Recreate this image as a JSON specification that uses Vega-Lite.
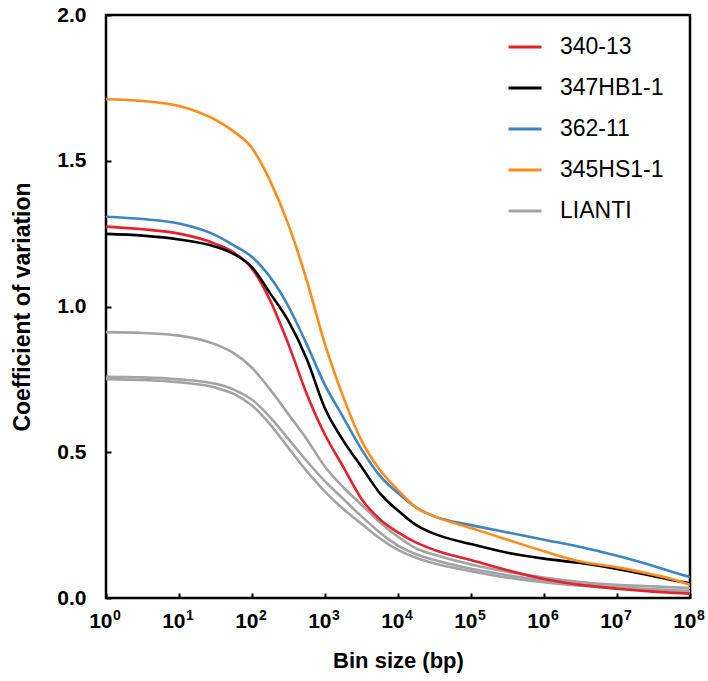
{
  "$schema": "https://vega.github.io/schema/vega-lite/v6.json",
  "width": 584,
  "height": 583,
  "autosize": "none",
  "padding": {"left": 106, "top": 15, "right": 18, "bottom": 83},
  "background": "white",
  "config": {
    "view": {"stroke": "black", "strokeWidth": 2.5},
    "font": "Liberation Sans"
  },
  "datasets": {
    "curves": [
    {"s":"L1","g":"LIANTI","x":1,"y":0.912},{"s":"L1","g":"LIANTI","x":3.162,"y":0.909},{"s":"L1","g":"LIANTI","x":10,"y":0.90},{"s":"L1","g":"LIANTI","x":31.62,"y":0.87},{"s":"L1","g":"LIANTI","x":56.23,"y":0.84},{"s":"L1","g":"LIANTI","x":100,"y":0.79},{"s":"L1","g":"LIANTI","x":177.8,"y":0.715},{"s":"L1","g":"LIANTI","x":316.2,"y":0.63},{"s":"L1","g":"LIANTI","x":562.3,"y":0.545},{"s":"L1","g":"LIANTI","x":1000,"y":0.45},{"s":"L1","g":"LIANTI","x":1778,"y":0.38},{"s":"L1","g":"LIANTI","x":3162,"y":0.32},{"s":"L1","g":"LIANTI","x":5623,"y":0.26},{"s":"L1","g":"LIANTI","x":10000,"y":0.21},{"s":"L1","g":"LIANTI","x":17783,"y":0.17},{"s":"L1","g":"LIANTI","x":31623,"y":0.148},{"s":"L1","g":"LIANTI","x":100000,"y":0.115},{"s":"L1","g":"LIANTI","x":316228,"y":0.09},{"s":"L1","g":"LIANTI","x":1000000,"y":0.07},{"s":"L1","g":"LIANTI","x":3162278,"y":0.055},{"s":"L1","g":"LIANTI","x":10000000,"y":0.045},{"s":"L1","g":"LIANTI","x":31622777,"y":0.04},{"s":"L1","g":"LIANTI","x":56234133,"y":0.037},{"s":"L1","g":"LIANTI","x":100000000,"y":0.034},
    {"s":"L2","g":"LIANTI","x":1,"y":0.759},{"s":"L2","g":"LIANTI","x":3.162,"y":0.757},{"s":"L2","g":"LIANTI","x":10,"y":0.75},{"s":"L2","g":"LIANTI","x":31.62,"y":0.735},{"s":"L2","g":"LIANTI","x":56.23,"y":0.715},{"s":"L2","g":"LIANTI","x":100,"y":0.68},{"s":"L2","g":"LIANTI","x":177.8,"y":0.62},{"s":"L2","g":"LIANTI","x":316.2,"y":0.545},{"s":"L2","g":"LIANTI","x":562.3,"y":0.47},{"s":"L2","g":"LIANTI","x":1000,"y":0.40},{"s":"L2","g":"LIANTI","x":1778,"y":0.34},{"s":"L2","g":"LIANTI","x":3162,"y":0.28},{"s":"L2","g":"LIANTI","x":5623,"y":0.225},{"s":"L2","g":"LIANTI","x":10000,"y":0.18},{"s":"L2","g":"LIANTI","x":17783,"y":0.15},{"s":"L2","g":"LIANTI","x":31623,"y":0.13},{"s":"L2","g":"LIANTI","x":100000,"y":0.10},{"s":"L2","g":"LIANTI","x":316228,"y":0.078},{"s":"L2","g":"LIANTI","x":1000000,"y":0.06},{"s":"L2","g":"LIANTI","x":3162278,"y":0.046},{"s":"L2","g":"LIANTI","x":10000000,"y":0.037},{"s":"L2","g":"LIANTI","x":31622777,"y":0.03},{"s":"L2","g":"LIANTI","x":56234133,"y":0.027},{"s":"L2","g":"LIANTI","x":100000000,"y":0.024},
    {"s":"L3","g":"LIANTI","x":1,"y":0.751},{"s":"L3","g":"LIANTI","x":3.162,"y":0.748},{"s":"L3","g":"LIANTI","x":10,"y":0.74},{"s":"L3","g":"LIANTI","x":31.62,"y":0.722},{"s":"L3","g":"LIANTI","x":56.23,"y":0.70},{"s":"L3","g":"LIANTI","x":100,"y":0.66},{"s":"L3","g":"LIANTI","x":177.8,"y":0.595},{"s":"L3","g":"LIANTI","x":316.2,"y":0.515},{"s":"L3","g":"LIANTI","x":562.3,"y":0.435},{"s":"L3","g":"LIANTI","x":1000,"y":0.365},{"s":"L3","g":"LIANTI","x":1778,"y":0.305},{"s":"L3","g":"LIANTI","x":3162,"y":0.255},{"s":"L3","g":"LIANTI","x":5623,"y":0.205},{"s":"L3","g":"LIANTI","x":10000,"y":0.165},{"s":"L3","g":"LIANTI","x":17783,"y":0.138},{"s":"L3","g":"LIANTI","x":31623,"y":0.118},{"s":"L3","g":"LIANTI","x":100000,"y":0.092},{"s":"L3","g":"LIANTI","x":316228,"y":0.07},{"s":"L3","g":"LIANTI","x":1000000,"y":0.054},{"s":"L3","g":"LIANTI","x":3162278,"y":0.042},{"s":"L3","g":"LIANTI","x":10000000,"y":0.033},{"s":"L3","g":"LIANTI","x":31622777,"y":0.026},{"s":"L3","g":"LIANTI","x":56234133,"y":0.023},{"s":"L3","g":"LIANTI","x":100000000,"y":0.021},
    {"s":"340-13","g":"340-13","x":1,"y":1.274},{"s":"340-13","g":"340-13","x":3.162,"y":1.265},{"s":"340-13","g":"340-13","x":10,"y":1.25},{"s":"340-13","g":"340-13","x":31.62,"y":1.215},{"s":"340-13","g":"340-13","x":56.23,"y":1.185},{"s":"340-13","g":"340-13","x":100,"y":1.13},{"s":"340-13","g":"340-13","x":177.8,"y":1.02},{"s":"340-13","g":"340-13","x":316.2,"y":0.87},{"s":"340-13","g":"340-13","x":562.3,"y":0.70},{"s":"340-13","g":"340-13","x":1000,"y":0.56},{"s":"340-13","g":"340-13","x":1778,"y":0.45},{"s":"340-13","g":"340-13","x":3162,"y":0.34},{"s":"340-13","g":"340-13","x":5623,"y":0.27},{"s":"340-13","g":"340-13","x":10000,"y":0.225},{"s":"340-13","g":"340-13","x":17783,"y":0.19},{"s":"340-13","g":"340-13","x":31623,"y":0.165},{"s":"340-13","g":"340-13","x":100000,"y":0.13},{"s":"340-13","g":"340-13","x":316228,"y":0.095},{"s":"340-13","g":"340-13","x":1000000,"y":0.065},{"s":"340-13","g":"340-13","x":3162278,"y":0.045},{"s":"340-13","g":"340-13","x":10000000,"y":0.032},{"s":"340-13","g":"340-13","x":31622777,"y":0.022},{"s":"340-13","g":"340-13","x":56234133,"y":0.018},{"s":"340-13","g":"340-13","x":100000000,"y":0.015},
    {"s":"347HB1-1","g":"347HB1-1","x":1,"y":1.249},{"s":"347HB1-1","g":"347HB1-1","x":3.162,"y":1.243},{"s":"347HB1-1","g":"347HB1-1","x":10,"y":1.23},{"s":"347HB1-1","g":"347HB1-1","x":31.62,"y":1.205},{"s":"347HB1-1","g":"347HB1-1","x":56.23,"y":1.18},{"s":"347HB1-1","g":"347HB1-1","x":100,"y":1.135},{"s":"347HB1-1","g":"347HB1-1","x":177.8,"y":1.045},{"s":"347HB1-1","g":"347HB1-1","x":316.2,"y":0.95},{"s":"347HB1-1","g":"347HB1-1","x":562.3,"y":0.82},{"s":"347HB1-1","g":"347HB1-1","x":1000,"y":0.65},{"s":"347HB1-1","g":"347HB1-1","x":1778,"y":0.54},{"s":"347HB1-1","g":"347HB1-1","x":3162,"y":0.45},{"s":"347HB1-1","g":"347HB1-1","x":5623,"y":0.36},{"s":"347HB1-1","g":"347HB1-1","x":10000,"y":0.30},{"s":"347HB1-1","g":"347HB1-1","x":17783,"y":0.25},{"s":"347HB1-1","g":"347HB1-1","x":31623,"y":0.22},{"s":"347HB1-1","g":"347HB1-1","x":100000,"y":0.185},{"s":"347HB1-1","g":"347HB1-1","x":316228,"y":0.155},{"s":"347HB1-1","g":"347HB1-1","x":1000000,"y":0.135},{"s":"347HB1-1","g":"347HB1-1","x":3162278,"y":0.12},{"s":"347HB1-1","g":"347HB1-1","x":10000000,"y":0.10},{"s":"347HB1-1","g":"347HB1-1","x":31622777,"y":0.075},{"s":"347HB1-1","g":"347HB1-1","x":56234133,"y":0.062},{"s":"347HB1-1","g":"347HB1-1","x":100000000,"y":0.05},
    {"s":"362-11","g":"362-11","x":1,"y":1.308},{"s":"362-11","g":"362-11","x":3.162,"y":1.30},{"s":"362-11","g":"362-11","x":10,"y":1.285},{"s":"362-11","g":"362-11","x":31.62,"y":1.245},{"s":"362-11","g":"362-11","x":56.23,"y":1.21},{"s":"362-11","g":"362-11","x":100,"y":1.17},{"s":"362-11","g":"362-11","x":177.8,"y":1.10},{"s":"362-11","g":"362-11","x":316.2,"y":1.00},{"s":"362-11","g":"362-11","x":562.3,"y":0.87},{"s":"362-11","g":"362-11","x":1000,"y":0.73},{"s":"362-11","g":"362-11","x":1778,"y":0.62},{"s":"362-11","g":"362-11","x":3162,"y":0.51},{"s":"362-11","g":"362-11","x":5623,"y":0.42},{"s":"362-11","g":"362-11","x":10000,"y":0.36},{"s":"362-11","g":"362-11","x":17783,"y":0.31},{"s":"362-11","g":"362-11","x":31623,"y":0.28},{"s":"362-11","g":"362-11","x":100000,"y":0.25},{"s":"362-11","g":"362-11","x":316228,"y":0.225},{"s":"362-11","g":"362-11","x":1000000,"y":0.20},{"s":"362-11","g":"362-11","x":3162278,"y":0.175},{"s":"362-11","g":"362-11","x":10000000,"y":0.145},{"s":"362-11","g":"362-11","x":31622777,"y":0.11},{"s":"362-11","g":"362-11","x":56234133,"y":0.09},{"s":"362-11","g":"362-11","x":100000000,"y":0.072},
    {"s":"345HS1-1","g":"345HS1-1","x":1,"y":1.711},{"s":"345HS1-1","g":"345HS1-1","x":3.162,"y":1.705},{"s":"345HS1-1","g":"345HS1-1","x":10,"y":1.688},{"s":"345HS1-1","g":"345HS1-1","x":31.62,"y":1.64},{"s":"345HS1-1","g":"345HS1-1","x":56.23,"y":1.60},{"s":"345HS1-1","g":"345HS1-1","x":100,"y":1.544},{"s":"345HS1-1","g":"345HS1-1","x":177.8,"y":1.43},{"s":"345HS1-1","g":"345HS1-1","x":316.2,"y":1.28},{"s":"345HS1-1","g":"345HS1-1","x":562.3,"y":1.09},{"s":"345HS1-1","g":"345HS1-1","x":1000,"y":0.87},{"s":"345HS1-1","g":"345HS1-1","x":1778,"y":0.69},{"s":"345HS1-1","g":"345HS1-1","x":3162,"y":0.54},{"s":"345HS1-1","g":"345HS1-1","x":5623,"y":0.44},{"s":"345HS1-1","g":"345HS1-1","x":10000,"y":0.37},{"s":"345HS1-1","g":"345HS1-1","x":17783,"y":0.31},{"s":"345HS1-1","g":"345HS1-1","x":31623,"y":0.28},{"s":"345HS1-1","g":"345HS1-1","x":100000,"y":0.24},{"s":"345HS1-1","g":"345HS1-1","x":316228,"y":0.20},{"s":"345HS1-1","g":"345HS1-1","x":1000000,"y":0.16},{"s":"345HS1-1","g":"345HS1-1","x":3162278,"y":0.125},{"s":"345HS1-1","g":"345HS1-1","x":10000000,"y":0.105},{"s":"345HS1-1","g":"345HS1-1","x":31622777,"y":0.08},{"s":"345HS1-1","g":"345HS1-1","x":56234133,"y":0.065},{"s":"345HS1-1","g":"345HS1-1","x":100000000,"y":0.045}
    ],
    "exponents": [
      {"x":1,"e":"0"},{"x":10,"e":"1"},{"x":100,"e":"2"},{"x":1000,"e":"3"},{"x":10000,"e":"4"},{"x":100000,"e":"5"},{"x":1000000,"e":"6"},{"x":10000000,"e":"7"},{"x":100000000,"e":"8"}
    ]
  },
  "encoding": {
    "x": {
      "field": "x", "type": "quantitative",
      "scale": {"type": "log", "domain": [1, 100000000], "nice": false},
      "axis": {
        "values": [1, 10, 100, 1000, 10000, 100000, 1000000, 10000000, 100000000],
        "labelExpr": "'10'",
        "labelFont": "Liberation Sans", "labelFontWeight": "bold", "labelFontSize": 21, "labelColor": "black",
        "labelPadding": 17, "labelFlush": false, "labelAlign": "right", "labelOffset": 6, "labelOverlap": false,
        "tickColor": "black", "tickWidth": 2, "tickSize": -5,
        "domain": false, "grid": false,
        "title": "Bin size (bp)", "titleFont": "Liberation Sans", "titleFontWeight": "bold", "titleFontSize": 22, "titleColor": "black", "titlePadding": 19
      }
    }
  },
  "layer": [
    {
      "data": {"name": "curves"},
      "mark": {"type": "line", "strokeWidth": 2.6, "interpolate": "monotone", "clip": true},
      "encoding": {
        "y": {
          "field": "y", "type": "quantitative",
          "scale": {"domain": [0, 2], "nice": false},
          "axis": {
            "values": [0, 0.5, 1, 1.5, 2], "format": ".1f",
            "labelFont": "Liberation Sans", "labelFontWeight": "bold", "labelFontSize": 21, "labelColor": "black",
            "labelPadding": 25, "labelFlush": false,
            "tickColor": "black", "tickWidth": 2, "tickSize": -5,
            "domain": false, "grid": false,
            "title": "Coefficient of variation", "titleFont": "Liberation Sans", "titleFontWeight": "bold", "titleFontSize": 23, "titleColor": "black", "titlePadding": 22
          }
        },
        "color": {
          "field": "g", "type": "nominal",
          "scale": {"domain": ["340-13", "347HB1-1", "362-11", "345HS1-1", "LIANTI"], "range": ["#e6212a", "#000000", "#3c84c4", "#ff8c1a", "#a3a3a3"]},
          "legend": {
            "title": null, "orient": "none", "legendX": 401, "legendY": 14,
            "symbolType": "stroke", "symbolSize": 1089, "symbolStrokeWidth": 3,
            "labelFont": "Liberation Sans", "labelFontSize": 23, "labelColor": "black", "labelOffset": 17,
            "rowPadding": 11, "padding": 0
          }
        },
        "detail": {"field": "s", "type": "nominal"}
      }
    },
    {
      "data": {"name": "exponents"},
      "mark": {"type": "text", "align": "left", "baseline": "top", "dx": 7, "dy": 11, "fontSize": 14, "fontWeight": "bold", "font": "Liberation Sans", "color": "black", "clip": false},
      "encoding": {
        "y": {"datum": 0, "type": "quantitative"},
        "text": {"field": "e", "type": "nominal"}
      }
    }
  ]
}
